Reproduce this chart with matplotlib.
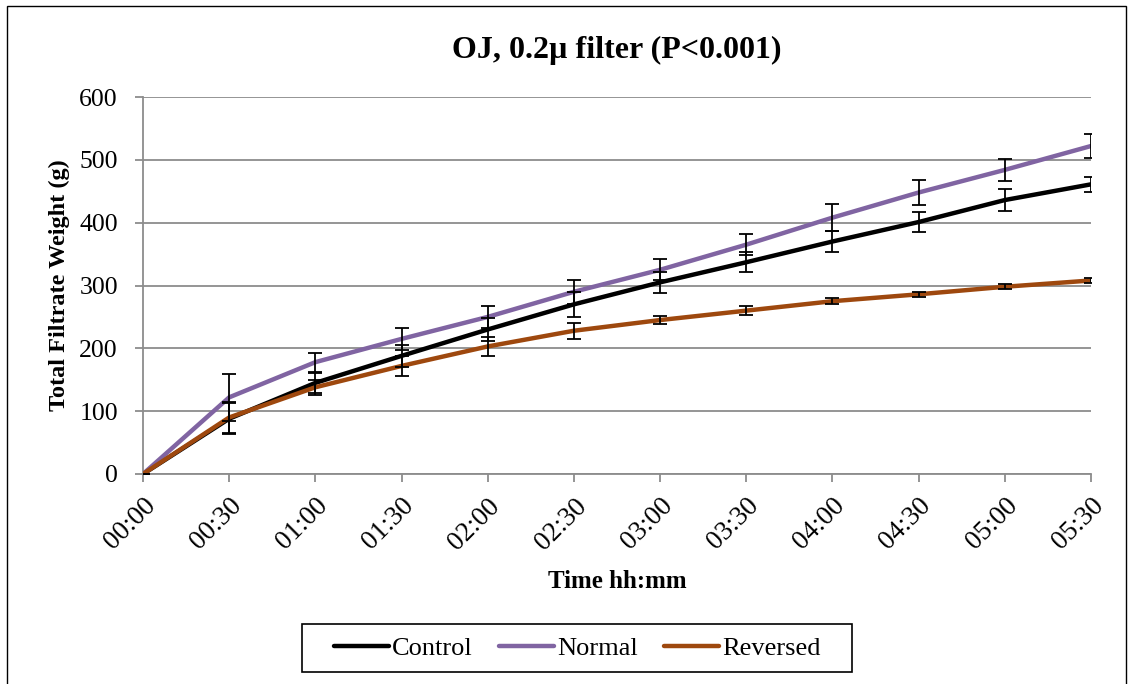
import numpy as np
import matplotlib.pyplot as plt
from matplotlib.patches import Rectangle

plt.rcParams['font.family'] = ['Liberation Serif', 'DejaVu Serif']

# data
times = ['00:00', '00:30', '01:00', '01:30', '02:00', '02:30', '03:00',
         '03:30', '04:00', '04:30', '05:00', '05:30']
control = [0, 88, 145, 188, 230, 270, 305, 337, 370, 401, 436, 461]
control_err = [0, 25, 16, 17, 18, 20, 17, 16, 16, 16, 17, 12]
normal = [0, 122, 178, 215, 250, 290, 325, 365, 408, 448, 484, 522]
normal_err = [0, 37, 15, 17, 17, 19, 17, 17, 22, 20, 18, 19]
reversed_ = [0, 90, 138, 172, 203, 228, 245, 260, 275, 286, 298, 308]
reversed_err = [0, 25, 12, 16, 15, 13, 7, 7, 5, 4, 4, 4]

W, H = 1133, 684
fig = plt.figure(figsize=(W/100, H/100), dpi=100)
ax = fig.add_axes([143/W, 1-474/H, (1091-143)/W, (474-97)/H])

x = np.arange(len(times))
series = [('Control', control, control_err, 'black'),
          ('Normal', normal, normal_err, '#8064A2'),
          ('Reversed', reversed_, reversed_err, '#9E480E')]
for name, y, err, c in series:
    ax.plot(x, y, color=c, lw=3.2, label=name, zorder=3, solid_capstyle='round')
for name, y, err, c in series:
    ax.errorbar(x, y, yerr=err, fmt='none', ecolor='black', elinewidth=1.3,
                capsize=5, capthick=1.3, zorder=4)

ax.set_xlim(0, len(times)-1)
ax.set_ylim(0, 600)
ax.set_yticks(range(0, 601, 100))
ax.set_xticks(x)
ax.set_xticklabels(times, rotation=45, ha='right', va='top', rotation_mode='anchor')
ax.grid(axis='y', color='#8c8c8c', lw=1.3)
ax.set_axisbelow(True)
for s in ['top', 'right']:
    ax.spines[s].set_visible(False)
for s in ['left', 'bottom']:
    ax.spines[s].set_color('#8c8c8c')
    ax.spines[s].set_linewidth(1.3)
ax.tick_params(axis='both', colors='#8c8c8c', labelcolor='black', labelsize=18.5,
               length=6, width=1.3)
ax.tick_params(axis='x', labelsize=19.5, pad=8)
ax.tick_params(axis='y', pad=12)

ax.set_title('OJ, 0.2µ filter (P<0.001)', fontsize=23, fontweight='bold', pad=28)
ax.set_xlabel('Time hh:mm', fontsize=18, fontweight='bold', labelpad=11)
ax.set_ylabel('Total Filtrate Weight (g)', fontsize=17.5, fontweight='bold', labelpad=7)

leg = fig.legend(loc='center', bbox_to_anchor=(577/W, 1-648/H), ncol=3,
                 fontsize=19, frameon=False,
                 handlelength=2.1, handletextpad=0.1, columnspacing=1.0,
                 borderpad=0.45)

# legend box is wider than the entries, draw it by hand
fig.canvas.draw()
bb = leg.get_window_extent()
fig.patches.append(Rectangle(((bb.x0-20)/W, bb.y0/H), (bb.width+40)/W, bb.height/H,
                             transform=fig.transFigure, fill=False,
                             edgecolor='black', lw=1.2))

fig.patches.append(Rectangle((7/W, -0.01), (1126-7)/W, 1-6/H+0.01,
                             transform=fig.transFigure, fill=False,
                             edgecolor='black', lw=1.0))

fig.savefig('out.png', dpi=100)
